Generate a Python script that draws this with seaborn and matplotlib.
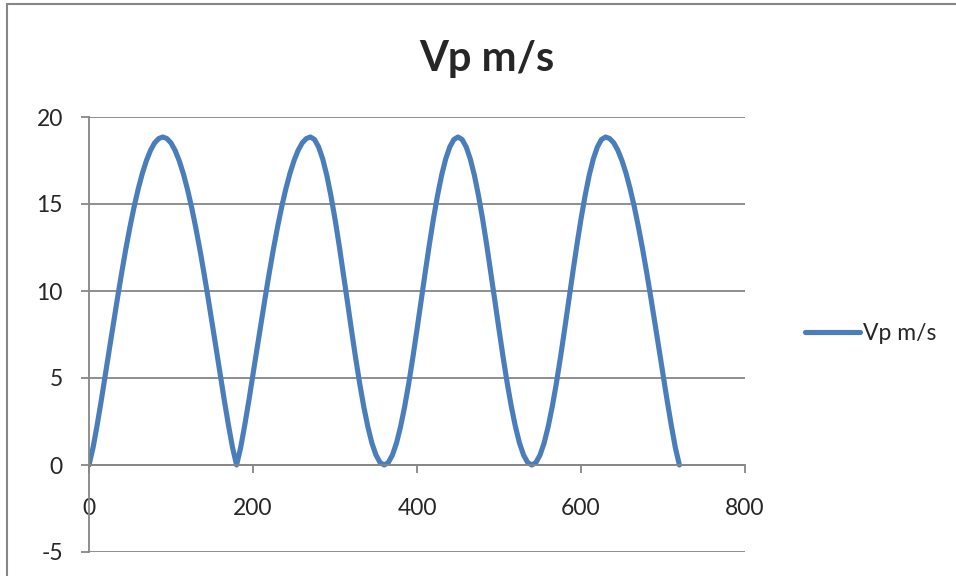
import numpy as np
import pandas as pd
import matplotlib
matplotlib.use("Agg")
import matplotlib.pyplot as plt
from matplotlib.lines import Line2D
import seaborn as sns

# ---- data (crank angle in degrees, piston speed in m/s) ----
angle_deg = list(range(0, 721, 5))

seg_0_90 = [0.00, 1.01, 2.31, 3.72, 5.20, 6.71, 8.21, 9.67, 11.09, 12.44,
            13.69, 14.84, 15.86, 16.75, 17.49, 18.08, 18.51, 18.76, 18.85]
seg_95_180 = [18.76, 18.51, 18.08, 17.49, 16.75, 15.86, 14.84, 13.69, 12.44,
              11.09, 9.67, 8.21, 6.71, 5.20, 3.72, 2.31, 1.01, 0.00]
seg_185_270 = [1.01, 2.31, 3.72, 5.20, 6.71, 8.21, 9.67, 11.09, 12.44,
               13.69, 14.84, 15.86, 16.75, 17.49, 18.08, 18.51, 18.76, 18.85]
seg_275_360 = [18.71, 18.28, 17.59, 16.65, 15.48, 14.14, 12.65, 11.06, 9.43,
               7.79, 6.20, 4.71, 3.37, 2.21, 1.26, 0.57, 0.14, 0.00]
seg_365_450 = [0.14, 0.57, 1.26, 2.21, 3.37, 4.71, 6.20, 7.79, 9.43,
               11.06, 12.65, 14.14, 15.48, 16.65, 17.59, 18.28, 18.71, 18.85]
seg_455_540 = [18.71, 18.28, 17.59, 16.65, 15.48, 14.14, 12.65, 11.06, 9.43,
               7.79, 6.20, 4.71, 3.37, 2.21, 1.26, 0.57, 0.14, 0.00]
seg_545_630 = [0.14, 0.57, 1.26, 2.21, 3.37, 4.71, 6.20, 7.79, 9.43,
               11.06, 12.65, 14.14, 15.48, 16.65, 17.59, 18.28, 18.71, 18.85]
seg_635_720 = [18.76, 18.51, 18.08, 17.49, 16.75, 15.86, 14.84, 13.69, 12.44,
               11.09, 9.67, 8.21, 6.71, 5.20, 3.72, 2.31, 1.01, 0.00]

vp = (seg_0_90 + seg_95_180 + seg_185_270 + seg_275_360 +
      seg_365_450 + seg_455_540 + seg_545_630 + seg_635_720)

series_name = "Vp m/s"
title_text = "Vp m/s"
x_ticks = [0, 200, 400, 600, 800]
y_ticks = [-5, 0, 5, 10, 15, 20]

df = pd.DataFrame({"angle": angle_deg, "vp": vp})

# ---- styling ----
sns.set_style("white")
plt.rcParams["font.family"] = ["Lato", "DejaVu Sans"]
plt.rcParams["axes.unicode_minus"] = False

LINE_C = "#4A7EBB"
GRID_C = "#868686"

W, H = 956, 576
fig = plt.figure(figsize=(W / 100, H / 100), dpi=100)
ax = fig.add_axes([89 / W, 1 - 552 / H, (745 - 89) / W, (552 - 117) / H])

sns.lineplot(data=df, x="angle", y="vp", ax=ax, color=LINE_C, linewidth=3.7,
             label=series_name, legend=False)
ax.lines[0].set_solid_capstyle("round")
ax.lines[0].set_solid_joinstyle("round")

ax.set_xlim(0, 800)
ax.set_ylim(-5, 20)
ax.set_xticks(x_ticks)
ax.set_yticks(y_ticks)
ax.set_xlabel("")
ax.set_ylabel("")

ax.yaxis.grid(True, color=GRID_C, linewidth=1.3)
ax.xaxis.grid(False)
ax.set_axisbelow(True)

for s in ["top", "right"]:
    ax.spines[s].set_visible(False)
ax.spines["left"].set_color(GRID_C)
ax.spines["left"].set_linewidth(1.3)
ax.spines["bottom"].set_position(("data", 0))
ax.spines["bottom"].set_color(GRID_C)
ax.spines["bottom"].set_linewidth(1.3)

ax.tick_params(axis="x", direction="out", length=5.8, width=1.3, color=GRID_C,
               labelsize=16.5, pad=18, bottom=True)
ax.tick_params(axis="y", direction="out", length=5.8, width=1.3, color=GRID_C,
               labelsize=16.5, pad=13, left=True)

# title
fig.text(487 / W, 1 - 70.7 / H, title_text, ha="center", va="baseline",
         fontsize=30, fontweight="bold")

# legend
handle = Line2D([], [], color=LINE_C, linewidth=3.7, solid_capstyle="round")
fig.legend([handle], [series_name], loc="center left",
           bbox_to_anchor=(805 / W, 1 - 334 / H), bbox_transform=fig.transFigure,
           frameon=False, fontsize=16.5, handlelength=2.4, handletextpad=0.12,
           borderpad=0, borderaxespad=0)

# chart-area border (top and left edges visible)
fig.add_artist(Line2D([7 / W, 7 / W], [0, 1 - 4 / H], transform=fig.transFigure,
                      color=GRID_C, linewidth=1.5))
fig.add_artist(Line2D([7 / W, 1], [1 - 4 / H, 1 - 4 / H], transform=fig.transFigure,
                      color=GRID_C, linewidth=1.5))

fig.savefig("out.png", dpi=100)
